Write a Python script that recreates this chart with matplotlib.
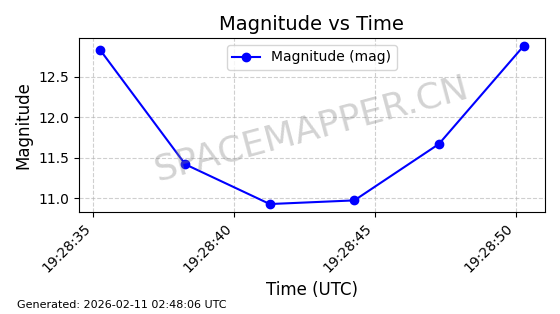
import matplotlib
matplotlib.use("Agg")
import matplotlib.pyplot as plt
import matplotlib.dates as mdates
from datetime import datetime

times = ["2026-02-10 19:28:35.25", "2026-02-10 19:28:38.27", "2026-02-10 19:28:41.27",
         "2026-02-10 19:28:44.27", "2026-02-10 19:28:47.27", "2026-02-10 19:28:50.28"]
magnitudes = [12.83, 11.42, 10.93, 10.975, 11.67, 12.88]

t = [datetime.strptime(s, "%Y-%m-%d %H:%M:%S.%f") for s in times]

fig, ax = plt.subplots(figsize=(5.6, 3.14), dpi=100)
ax.plot(t, magnitudes, color="blue", marker="o", linestyle="-", label="Magnitude (mag)")
ax.set_title("Magnitude vs Time", fontsize=14)
ax.set_xlabel("Time (UTC)", fontsize=12)
ax.set_ylabel("Magnitude", fontsize=12)
ax.xaxis.set_major_locator(mdates.SecondLocator(bysecond=range(0, 60, 5)))
ax.xaxis.set_major_formatter(mdates.DateFormatter("%H:%M:%S"))
plt.setp(ax.get_xticklabels(), rotation=45, ha="right")
ax.grid(True, linestyle="--", alpha=0.6)
ax.legend(loc="upper center")
ax.text(0.5, 0.48, "SPACEMAPPER.CN", transform=ax.transAxes, fontsize=26,
        color="gray", alpha=0.35, rotation=15, ha="center", va="center")
fig.text(0.03, 0.02, "Generated: 2026-02-11 02:48:06 UTC", fontsize=8)
fig.subplots_adjust(left=0.141, right=0.973, top=0.879, bottom=0.325)
fig.savefig("out.png", dpi=100)
